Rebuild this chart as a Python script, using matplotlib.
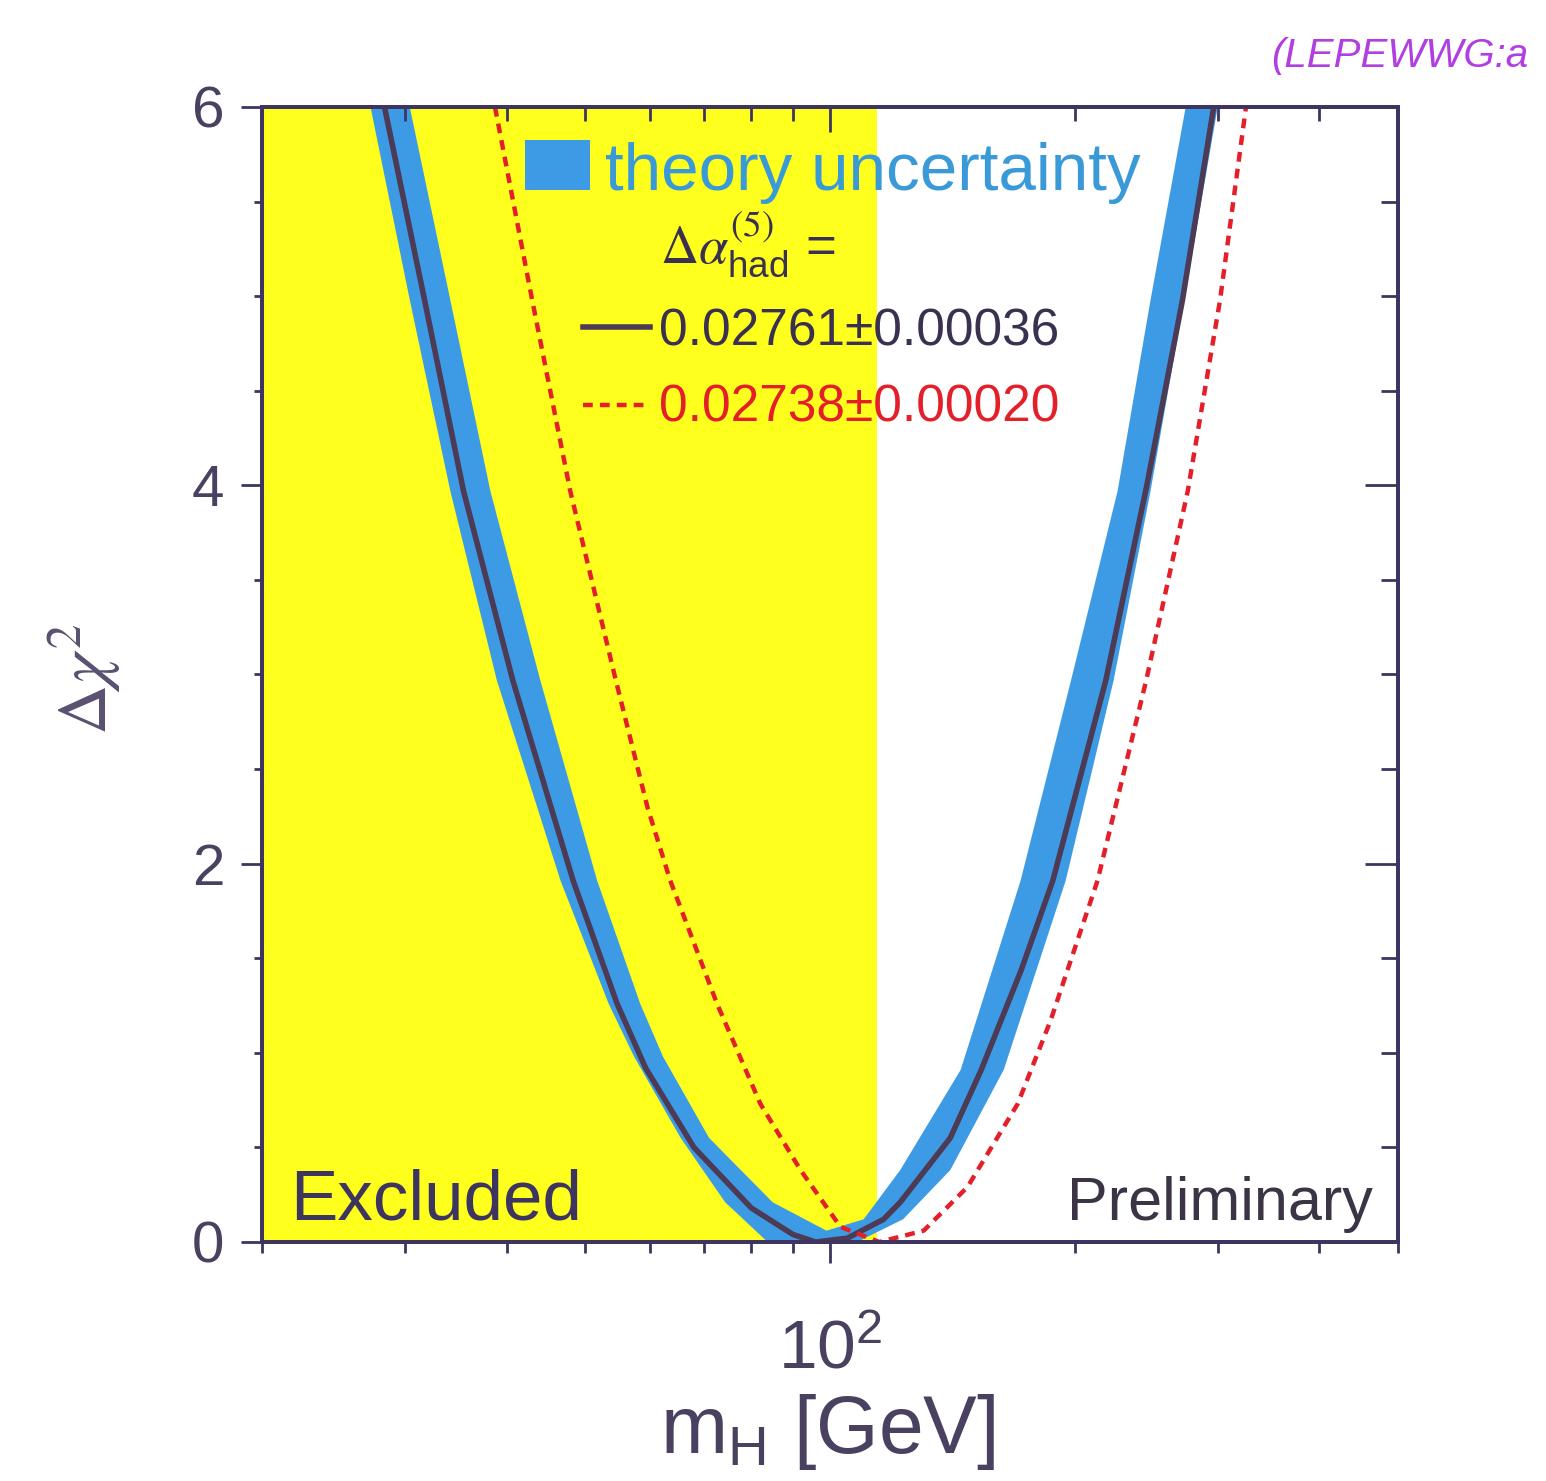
import numpy as np
import matplotlib
matplotlib.use("Agg")
import matplotlib.pyplot as plt
from matplotlib.patches import Rectangle
from matplotlib.ticker import LogLocator, MultipleLocator, NullFormatter, LogFormatterSciNotation

plt.rcParams['font.family'] = ['Liberation Sans', 'DejaVu Sans']
plt.rcParams['mathtext.fontset'] = 'custom'
plt.rcParams['mathtext.rm'] = 'Liberation Sans'
plt.rcParams['mathtext.it'] = 'Liberation Sans:italic'

### Delta chi^2 vs m_H, (mH [GeV], dchi2)

# central fit, Delta alpha_had = 0.02761 +- 0.00036
black_mh = [28.3, 31.7, 35.4, 40.7, 48.3, 54.7, 59.3, 68.0, 80.0, 90.0, 96.0,
            105.0, 116.4, 122.0, 140.6, 153.5, 172.0, 188.0, 218.5, 245.4, 271.5, 296.6]
black_chi2 = [6.0, 4.98, 3.97, 2.97, 1.91, 1.26, 0.92, 0.50, 0.18, 0.04, 0.0,
              0.02, 0.12, 0.21, 0.55, 0.91, 1.44, 1.91, 2.97, 4.0, 4.98, 6.0]

# Delta alpha_had = 0.02738 +- 0.00020
red_mh = [38.7, 43.0, 47.9, 54.5, 59.6, 63.6, 72.6, 82.1, 92.0, 103.0, 115.0,
          130.4, 147.6, 170.2, 186.8, 213.4, 245.0, 275.6, 302.0, 325.0]
red_chi2 = [6.0, 4.98, 3.97, 2.97, 2.30, 1.91, 1.26, 0.73, 0.38, 0.08, 0.0,
            0.06, 0.29, 0.73, 1.17, 1.91, 2.97, 3.97, 4.98, 6.0]

# theory uncertainty band, edges of the left and right branch (top -> bottom)
band_la_mh = [27.2, 30.4, 34.1, 38.9, 46.6, 53.4, 57.4, 65.5, 74.3, 83.8]
band_la_chi2 = [6.0, 4.98, 3.97, 2.97, 1.91, 1.26, 0.98, 0.55, 0.21, 0.0]
band_lb_mh = [30.4, 34.1, 38.2, 44.0, 51.7, 58.4, 62.3, 71.0, 85.0, 99.0]
band_lb_chi2 = [6.0, 4.98, 3.97, 2.97, 1.91, 1.26, 0.98, 0.55, 0.21, 0.06]
band_ra_mh = [274.0, 248.0, 225.9, 198.0, 171.6, 144.8, 122.0, 110.0, 99.0]
band_ra_chi2 = [6.0, 4.98, 3.97, 2.97, 1.91, 0.91, 0.38, 0.12, 0.06]
band_rb_mh = [300.0, 272.8, 248.0, 223.4, 195.0, 163.6, 140.6, 123.0, 108.0]
band_rb_chi2 = [6.0, 4.98, 3.97, 2.97, 1.91, 0.91, 0.38, 0.12, 0.0]

lep_limit = 114.4  # direct search exclusion
x_range = (20, 500)
y_range = (0, 6)

alpha_labels = ["0.02761\u00b10.00036", "0.02738\u00b10.00020"]

## colours
c_frame = '#3e3460'
c_text = '#4a4060'
c_blue = '#3d9be6'
c_black = '#4d3a55'
c_red = '#e3202a'
c_yellow = '#ffff1e'

fig = plt.figure(figsize=(15.46, 14.81), dpi=100)
ax = fig.add_axes([0.16947, 0.16138, 0.73480, 0.76638])
ax.set_xscale('log')
ax.set_xlim(*x_range)
ax.set_ylim(*y_range)

ax.axvspan(x_range[0], lep_limit, color=c_yellow, lw=0, zorder=0)

# band polygon: outer left edge down, outer right edge up, inner right down, inner left up
poly_m = band_la_mh + band_rb_mh[::-1] + band_ra_mh + band_lb_mh[::-1]
poly_c = band_la_chi2 + band_rb_chi2[::-1] + band_ra_chi2 + band_lb_chi2[::-1]
ax.fill(poly_m, poly_c, color=c_blue, lw=0, zorder=2)

ax.plot(black_mh, black_chi2, color=c_black, lw=4, zorder=3, solid_joinstyle='round')
ax.plot(red_mh, red_chi2, color=c_red, lw=3.2, ls=(0, (2.2, 1.6)), zorder=4)

## axes, ticks
for sp in ax.spines.values():
    sp.set_color(c_frame)
    sp.set_linewidth(2.6)

ax.xaxis.set_major_locator(LogLocator(base=10))
ax.xaxis.set_minor_locator(LogLocator(base=10, subs=np.arange(2, 10)))
ax.xaxis.set_major_formatter(LogFormatterSciNotation())
ax.xaxis.set_minor_formatter(NullFormatter())
ax.yaxis.set_major_locator(MultipleLocator(2))
ax.yaxis.set_minor_locator(MultipleLocator(0.5))

ax.tick_params(axis='both', which='both', direction='out', color=c_frame, width=2,
               top=False, right=False)
ax.tick_params(axis='y', which='major', length=15, pad=12, labelsize=42, labelcolor=c_text)
ax.tick_params(axis='y', which='minor', length=6)
ax.tick_params(axis='x', which='major', length=15, pad=40, labelsize=50, labelcolor=c_text)
ax.tick_params(axis='x', which='minor', length=8)

# right and top ticks point inwards
ax_r = ax.twinx()
ax_r.set_ylim(*y_range)
ax_r.yaxis.set_major_locator(MultipleLocator(2))
ax_r.yaxis.set_minor_locator(MultipleLocator(0.5))
ax_r.tick_params(axis='y', which='both', direction='in', color=c_frame, width=2, labelright=False)
ax_r.tick_params(axis='y', which='major', length=24)
ax_r.tick_params(axis='y', which='minor', length=12)
ax_t = ax.twiny()
ax_t.set_xscale('log')
ax_t.set_xlim(*x_range)
ax_t.xaxis.set_minor_locator(LogLocator(base=10, subs=np.arange(2, 10)))
ax_t.tick_params(axis='x', which='both', direction='in', color=c_frame, width=2, labeltop=False)
ax_t.tick_params(axis='x', which='major', length=18)
ax_t.tick_params(axis='x', which='minor', length=10)
for a in (ax_r, ax_t):
    for sp in a.spines.values():
        sp.set_color(c_frame)
        sp.set_linewidth(2.6)

## legend
ax.add_patch(Rectangle((0.2315, 0.927), 0.0572, 0.0441, transform=ax.transAxes,
                       color=c_blue, lw=0, zorder=5))
ax.text(0.302, 0.927, "theory uncertainty", transform=ax.transAxes, fontsize=48.5,
        color='#3a9ad8', va='baseline', zorder=6)
ax.text(0.350, 0.8626, r"$\Delta\alpha^{(5)}_{\mathregular{had}}$ =", transform=ax.transAxes,
        fontsize=38, color='#3a3050', va='baseline', math_fontfamily='stix', zorder=6)
ax.plot([0.2826, 0.3415], [0.806, 0.806], transform=ax.transAxes, color=c_black, lw=4, zorder=6)
ax.text(0.3495, 0.790, alpha_labels[0], transform=ax.transAxes, fontsize=37,
        color='#3a3050', va='baseline', zorder=6)
ax.plot([0.2826, 0.3415], [0.7374, 0.7374], transform=ax.transAxes, color=c_red, lw=3.2,
        ls=(0, (2.2, 1.6)), zorder=6)
ax.text(0.3495, 0.7225, alpha_labels[1], transform=ax.transAxes, fontsize=37,
        color=c_red, va='baseline', zorder=6)

ax.text(0.0246, 0.0194, "Excluded", transform=ax.transAxes, fontsize=51, color='#3d3560',
        va='baseline', zorder=6)
ax.text(0.978, 0.0194, "Preliminary", transform=ax.transAxes, fontsize=44, color='#3a3445',
        va='baseline', ha='right', zorder=6)

## axis titles
fig.text(0.055, 0.541, r"$\Delta\chi^2$", rotation=90, fontsize=50, color='#5a5070',
         ha='center', va='center', math_fontfamily='stix')
fig.text(0.5356, 0.033, r"m$_{\mathrm{H}}$ [GeV]", fontsize=58, color=c_text,
         ha='center', va='center')
fig.text(0.822, 0.962, "(LEPEWWG:a", fontsize=29, color='#b03ee0', style='italic',
         va='center')

fig.savefig("out.png", dpi=100)
